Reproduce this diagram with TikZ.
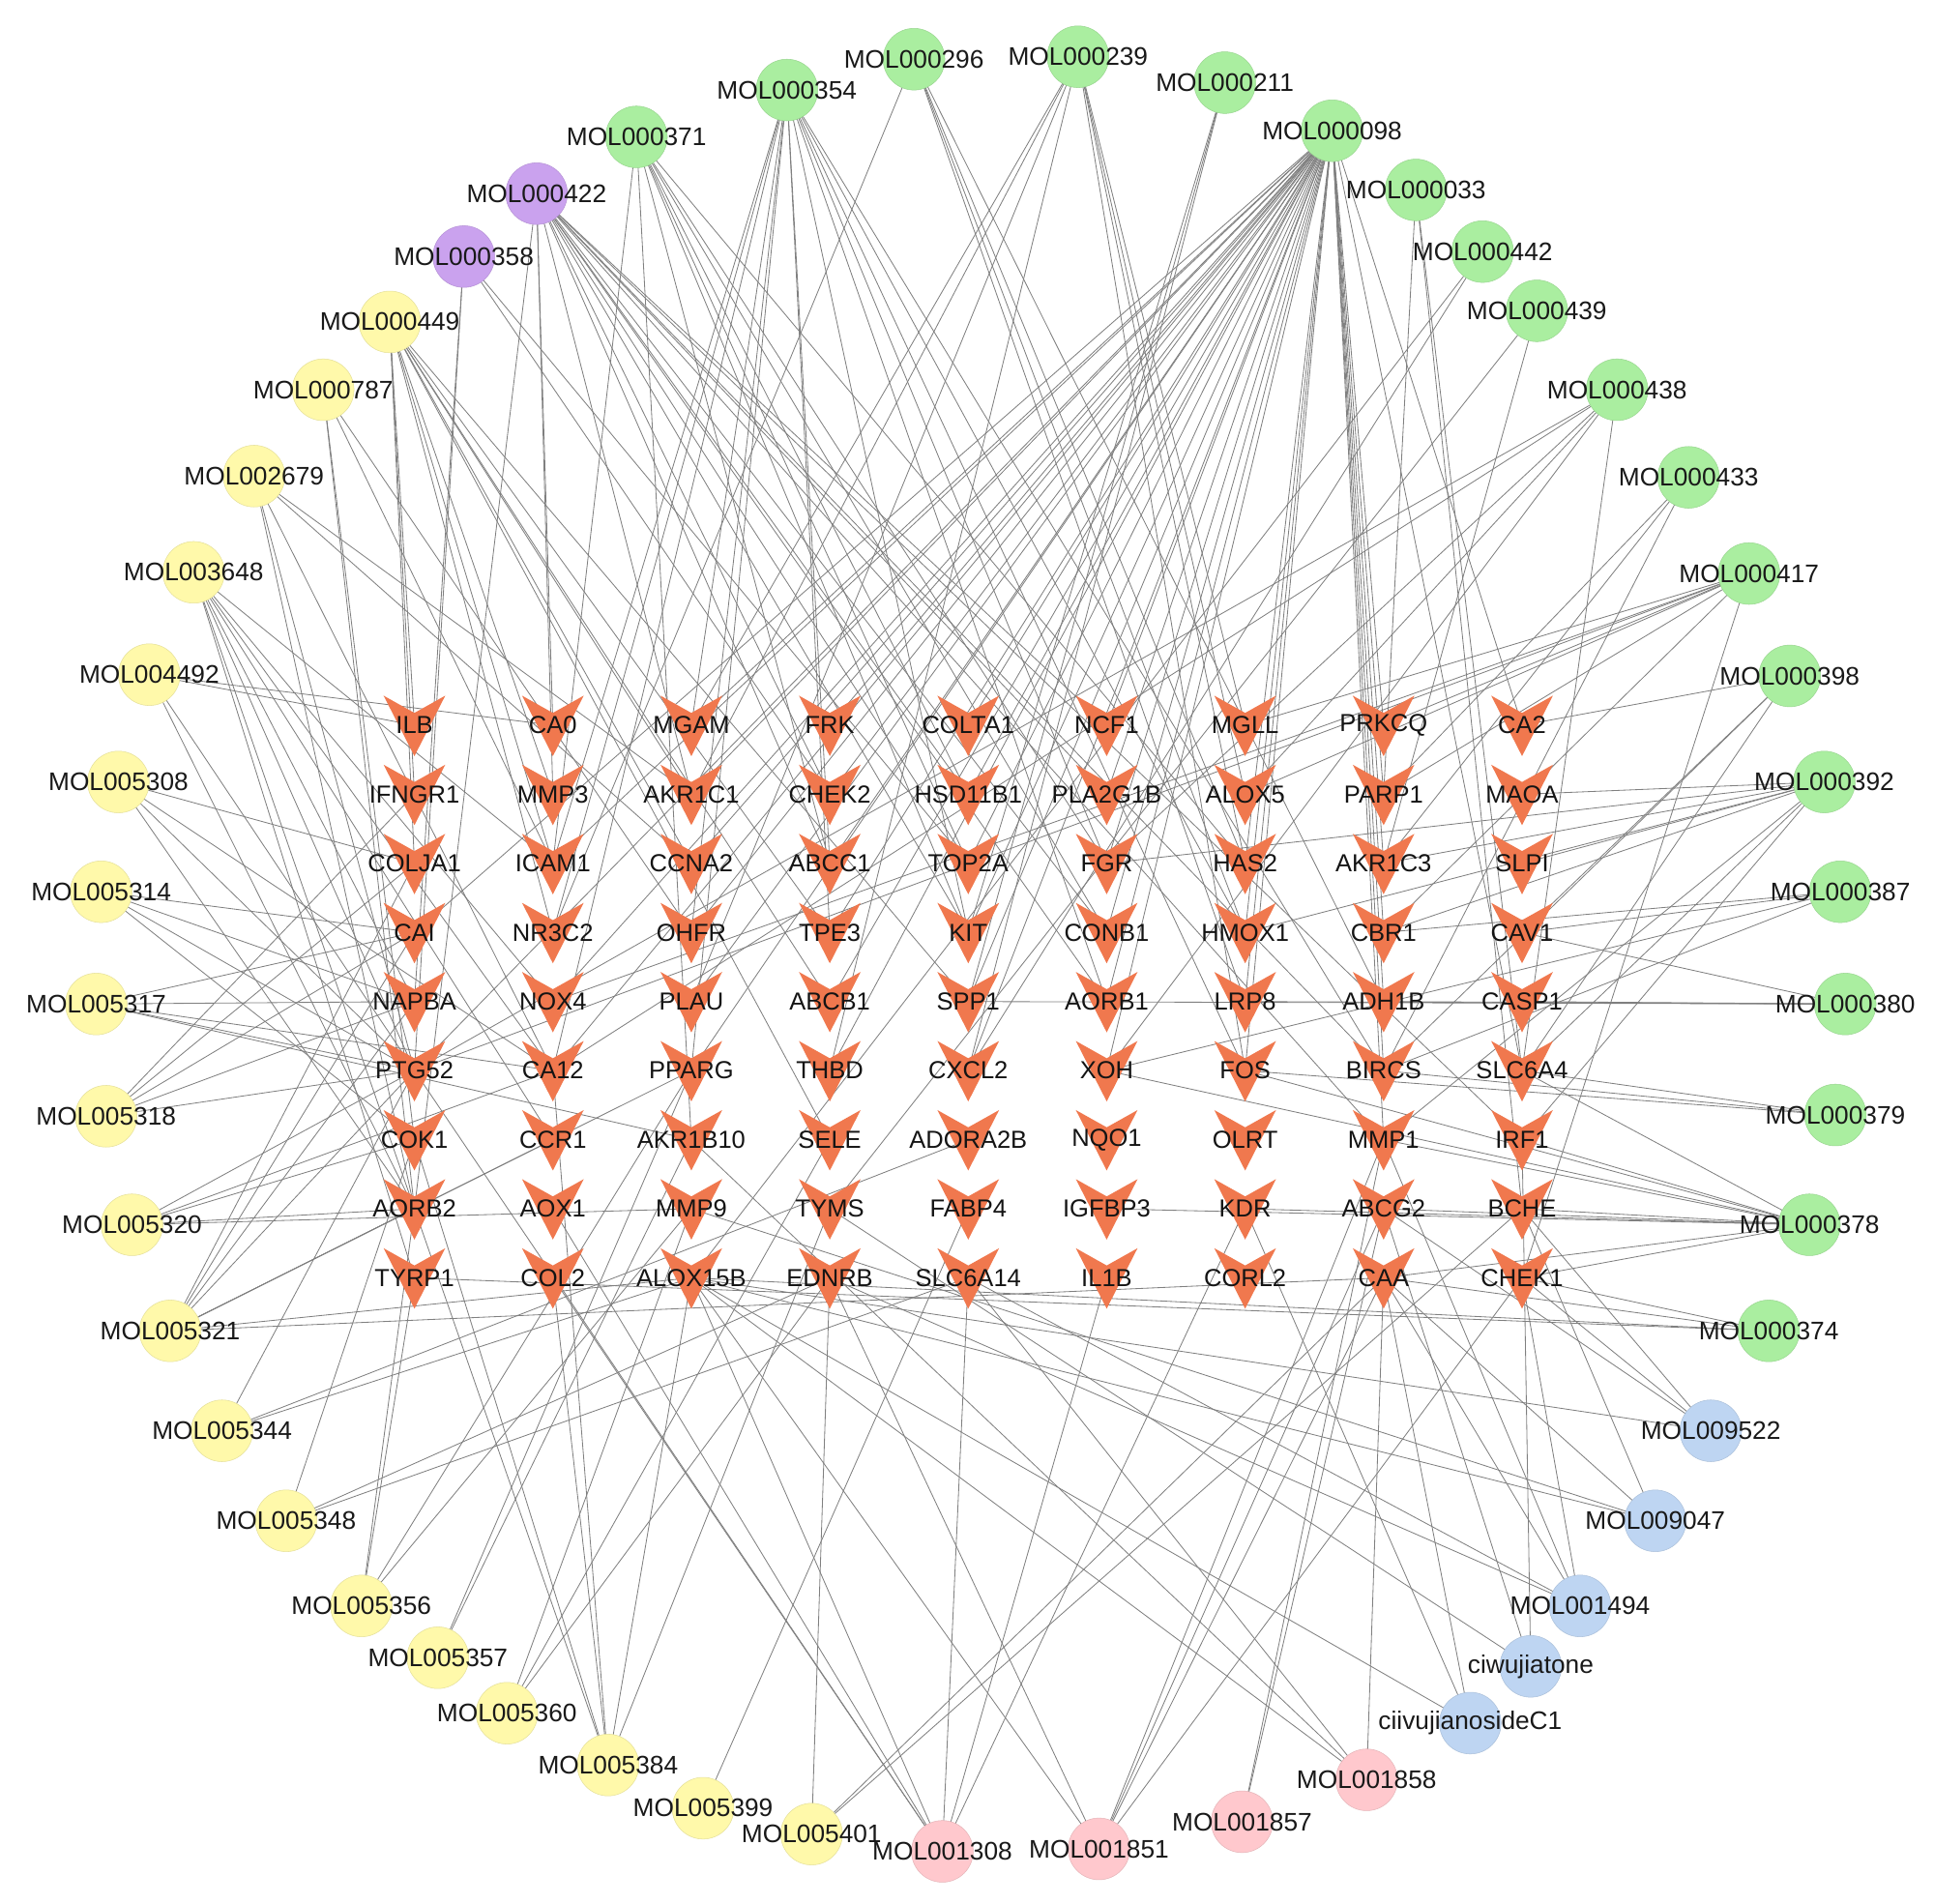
\documentclass[tikz,border=0pt]{standalone}
\usepackage{fontspec}
\setmainfont{Liberation Sans}
\definecolor{molgreen}{RGB}{170,238,160}
\definecolor{molpurple}{RGB}{202,162,238}
\definecolor{molyellow}{RGB}{255,249,170}
\definecolor{molpink}{RGB}{255,200,205}
\definecolor{molblue}{RGB}{190,213,242}
\definecolor{veeorange}{RGB}{240,120,78}
\pgfdeclarelayer{bg}
\pgfdeclarelayer{mid}
\pgfsetlayers{bg,mid,main}

\begin{document}
\begin{tikzpicture}[x=1pt,y=-1pt,
   mol/.style={circle,minimum size=50pt,inner sep=0pt,fill=#1,draw=#1!90!black,line width=.4pt},
   mollbl/.style={font=\fontsize{20.6}{22}\selectfont,text=black!90},
   gene/.style={inner sep=0pt,font=\fontsize{20}{22}\selectfont,text=black!92},
   link/.style={draw=black!50,line width=.65pt}]

   \useasboundingbox (0,0) rectangle (1568,1543);

   % targets, row by row
   \foreach \row [count=\r] in {
      {ILB,CA0,MGAM,FRK,COLTA1,NCF1,MGLL,PRKCQ,CA2},
      {IFNGR1,MMP3,AKR1C1,CHEK2,HSD11B1,PLA2G1B,ALOX5,PARP1,MAOA},
      {COLJA1,ICAM1,CCNA2,ABCC1,TOP2A,FGR,HAS2,AKR1C3,SLPI},
      {CAI,NR3C2,OHFR,TPE3,KIT,CONB1,HMOX1,CBR1,CAV1},
      {NAPBA,NOX4,PLAU,ABCB1,SPP1,AORB1,LRP8,ADH1B,CASP1},
      {PTG52,CA12,PPARG,THBD,CXCL2,XOH,FOS,BIRCS,SLC6A4},
      {COK1,CCR1,AKR1B10,SELE,ADORA2B,NQO1,OLRT,MMP1,IRF1},
      {AORB2,AOX1,MMP9,TYMS,FABP4,IGFBP3,KDR,ABCG2,BCHE},
      {TYRP1,COL2,ALOX15B,EDNRB,SLC6A14,IL1B,CORL2,CAA,CHEK1}}
   \foreach \g [count=\c] in \row {
      \node[gene] (\g) at ({336+112.25*(\c-1)},{588+56*(\r-1)}) {\g};
      \begin{pgfonlayer}{mid}
         \fill[veeorange] (\g.center) +(-25,-24) -- +(0,-10) -- +(25,-24) -- +(0,25) -- cycle;
      \end{pgfonlayer}
   }

   % compounds round the ring
   \node[mol=molgreen] (m371) at (516,111) [label={[mollbl]center:MOL000371}] {};
   \node[mol=molgreen] (m354) at (638,73) [label={[mollbl]center:MOL000354}] {};
   \node[mol=molgreen] (m296) at (741,48) [label={[mollbl]center:MOL000296}] {};
   \node[mol=molgreen] (m239) at (874,46) [label={[mollbl]center:MOL000239}] {};
   \node[mol=molgreen] (m211) at (993,67) [label={[mollbl]center:MOL000211}] {};
   \node[mol=molgreen] (m098) at (1080,106) [label={[mollbl]center:MOL000098}] {};
   \node[mol=molgreen] (m033) at (1148,154) [label={[mollbl]center:MOL000033}] {};
   \node[mol=molgreen] (m442) at (1202,204) [label={[mollbl]center:MOL000442}] {};
   \node[mol=molgreen] (m439) at (1246,252) [label={[mollbl]center:MOL000439}] {};
   \node[mol=molgreen] (m438) at (1311,316) [label={[mollbl]center:MOL000438}] {};
   \node[mol=molgreen] (m433) at (1369,387) [label={[mollbl]center:MOL000433}] {};
   \node[mol=molgreen] (m417) at (1418,465) [label={[mollbl]center:MOL000417}] {};
   \node[mol=molgreen] (m398) at (1451,548) [label={[mollbl]center:MOL000398}] {};
   \node[mol=molgreen] (m392) at (1479,634) [label={[mollbl]center:MOL000392}] {};
   \node[mol=molgreen] (m387) at (1492,723) [label={[mollbl]center:MOL000387}] {};
   \node[mol=molgreen] (m380) at (1496,814) [label={[mollbl]center:MOL000380}] {};
   \node[mol=molgreen] (m379) at (1488,904) [label={[mollbl]center:MOL000379}] {};
   \node[mol=molgreen] (m378) at (1467,993) [label={[mollbl]center:MOL000378}] {};
   \node[mol=molgreen] (m374) at (1434,1079) [label={[mollbl]center:MOL000374}] {};

   \node[mol=molpurple] (m422) at (435,157) [label={[mollbl]center:MOL000422}] {};
   \node[mol=molpurple] (m358) at (376,208) [label={[mollbl]center:MOL000358}] {};

   \node[mol=molyellow] (m449) at (316,261) [label={[mollbl]center:MOL000449}] {};
   \node[mol=molyellow] (m787) at (262,316) [label={[mollbl]center:MOL000787}] {};
   \node[mol=molyellow] (m2679) at (206,386) [label={[mollbl]center:MOL002679}] {};
   \node[mol=molyellow] (m3648) at (157,464) [label={[mollbl]center:MOL003648}] {};
   \node[mol=molyellow] (m4492) at (121,547) [label={[mollbl]center:MOL004492}] {};
   \node[mol=molyellow] (m5308) at (96,634) [label={[mollbl]center:MOL005308}] {};
   \node[mol=molyellow] (m5314) at (82,723) [label={[mollbl]center:MOL005314}] {};
   \node[mol=molyellow] (m5317) at (78,814) [label={[mollbl]center:MOL005317}] {};
   \node[mol=molyellow] (m5318) at (86,905) [label={[mollbl]center:MOL005318}] {};
   \node[mol=molyellow] (m5320) at (107,993) [label={[mollbl]center:MOL005320}] {};
   \node[mol=molyellow] (m5321) at (138,1079) [label={[mollbl]center:MOL005321}] {};
   \node[mol=molyellow] (m5344) at (180,1160) [label={[mollbl]center:MOL005344}] {};
   \node[mol=molyellow] (m5348) at (232,1233) [label={[mollbl]center:MOL005348}] {};
   \node[mol=molyellow] (m5356) at (293,1302) [label={[mollbl]center:MOL005356}] {};
   \node[mol=molyellow] (m5357) at (355,1344) [label={[mollbl]center:MOL005357}] {};
   \node[mol=molyellow] (m5360) at (411,1389) [label={[mollbl]center:MOL005360}] {};
   \node[mol=molyellow] (m5384) at (493,1431) [label={[mollbl]center:MOL005384}] {};
   \node[mol=molyellow] (m5399) at (570,1466) [label={[mollbl]center:MOL005399}] {};
   \node[mol=molyellow] (m5401) at (658,1487) [label={[mollbl]center:MOL005401}] {};

   \node[mol=molpink] (m1308) at (764,1501) [label={[mollbl]center:MOL001308}] {};
   \node[mol=molpink] (m1851) at (891,1499) [label={[mollbl]center:MOL001851}] {};
   \node[mol=molpink] (m1857) at (1007,1477) [label={[mollbl]center:MOL001857}] {};
   \node[mol=molpink] (m1858) at (1108,1443) [label={[mollbl]center:MOL001858}] {};

   \node[mol=molblue] (mC1) at (1192,1397) [label={[mollbl]center:ciivujianosideC1}] {};
   \node[mol=molblue] (mtone) at (1241,1351) [label={[mollbl]center:ciwujiatone}] {};
   \node[mol=molblue] (m1494) at (1281,1302) [label={[mollbl]center:MOL001494}] {};
   \node[mol=molblue] (m9047) at (1342,1233) [label={[mollbl]center:MOL009047}] {};
   \node[mol=molblue] (m9522) at (1387,1160) [label={[mollbl]center:MOL009522}] {};

   % compound -> target links
   \begin{pgfonlayer}{bg}
   \fill[white] (0,0) rectangle (1568,1543);
   \foreach \m/\ts in {
      m098/{PTG52,CAI,ICAM1,NOX4,CA12,PPARG,PLAU,OHFR,CCNA2,AKR1C1,MGAM,ABCC1,TPE3,ABCB1,THBD,CHEK2,FRK,HSD11B1,TOP2A,KIT,SPP1,CXCL2,COLTA1,NCF1,PLA2G1B,FGR,CONB1,AORB1,XOH,HAS2,HMOX1,LRP8,FOS,PRKCQ,PARP1,AKR1C3,CBR1,ADH1B,BIRCS,MMP1,SLC6A4,CA2},
      m371/{ICAM1,AKR1B10,ABCC1,TOP2A,HSD11B1,KIT,FGR,CONB1,HAS2},
      m354/{ICAM1,NR3C2,CA12,PPARG,OHFR,MGAM,ABCC1,TPE3,KIT,FGR,AORB1,HMOX1,FOS,BIRCS},
      m296/{NR3C2,HAS2,HMOX1,LRP8,ADH1B},
      m239/{MGAM,AKR1C1,PLAU,THBD,MGLL,ALOX5,HAS2,FOS},
      m211/{SPP1,KIT,CXCL2},
      m033/{SLC6A4,PARP1,BCHE},
      m442/{ALOX15B,CXCL2},
      m439/{TYMS,AKR1C3},
      m438/{PTG52,CA12,XOH,FGR,ALOX5,SLC6A4},
      m433/{PARP1,AKR1C3,BIRCS},
      m417/{PRKCQ,PARP1,ALOX5,MGLL,PTG52,NOX4,CBR1,CHEK1},
      m398/{CA2,CAV1,SLC6A4,BIRCS},
      m392/{MAOA,SLPI,AKR1C3,CBR1,HMOX1,FGR,SLC6A4,IRF1,MMP1},
      m387/{CAV1,CBR1,XOH,BIRCS},
      m380/{CAV1,CASP1,ADH1B,SPP1,LRP8},
      m379/{SLC6A4,BIRCS,FOS},
      m378/{SLC6A4,IRF1,BCHE,ABCG2,KDR,IGFBP3,MMP1,FOS,CAA,CHEK1,XOH},
      m374/{CHEK1,CAA,ALOX15B,TYRP1},
      m9522/{CHEK1,ABCG2,ALOX15B,BCHE},
      m9047/{MMP9,ALOX15B,CAA,BCHE},
      m1494/{EDNRB,CAA,CHEK1,MMP1,SLC6A14},
      mtone/{TYMS,ABCG2,IRF1},
      mC1/{ALOX15B,CAA,KDR},
      m1858/{CAA,ALOX15B,SLC6A14,AKR1B10},
      m1857/{ABCG2,MMP1},
      m1851/{ALOX15B,CHEK1,CAA,ABCG2,MMP1,EDNRB},
      m1308/{SLC6A14,ALOX15B,AOX1,COL2,PTG52,IL1B,KDR},
      m5401/{EDNRB,BCHE,CAA},
      m5399/{FABP4},
      m5384/{COL2,AORB2,COK1,CA12,ALOX15B,TYMS},
      m5360/{MMP9,EDNRB,SELE},
      m5357/{PPARG,AKR1B10},
      m5356/{TYRP1,AORB2,PPARG,MMP9},
      m5348/{COK1,SLC6A14,EDNRB},
      m5344/{PTG52,ALOX15B,ADORA2B},
      m5321/{PTG52,NAPBA,CAI,COLJA1,AORB2,CCR1,PPARG,CAA,ALOX15B},
      m5320/{AORB2,PTG52,COK1,CA12,MMP9},
      m5318/{PTG52,NAPBA,CAI,COLJA1,IFNGR1},
      m5317/{NAPBA,CAI,PTG52,CA12,AKR1B10},
      m5314/{CAI,NAPBA,PTG52,COK1},
      m5308/{COLJA1,CA12,PTG52,AORB2},
      m4492/{ILB,CA0,AORB2,PTG52},
      m3648/{PTG52,NAPBA,CA12,CCR1,ICAM1,NOX4,TYRP1,AORB2},
      m2679/{AORB2,CA12,AKR1C1,CCNA2,PTG52},
      m787/{AORB2,COK1,ICAM1,OHFR},
      m449/{ILB,IFNGR1,COLJA1,MMP3,ICAM1,NR3C2,AKR1C1,CCNA2,TPE3,ABCB1,SELE,SPP1},
      m358/{PTG52,NAPBA,CHEK2,TOP2A},
      m422/{CA0,MMP3,AORB2,AKR1C1,ABCC1,CHEK2,HSD11B1,TOP2A,KIT,NCF1,PLA2G1B,CONB1,AORB1,BIRCS,MMP1,IRF1}}
   \foreach \t in \ts
   \draw[link] (\m.center) -- (\t.center);
   \end{pgfonlayer}

\end{tikzpicture}
\end{document}
